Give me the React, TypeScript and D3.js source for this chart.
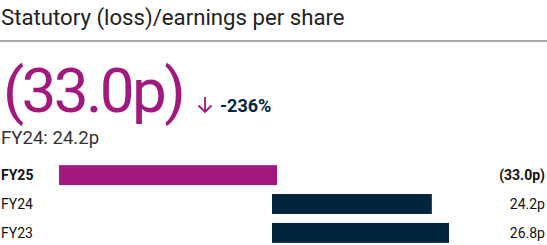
import React from "react";
import * as d3 from "d3";

const categories = ["FY25", "FY24", "FY23"];
const values = [-33.0, 24.2, 26.8];
const valueLabels = ["(33.0p)", "24.2p", "26.8p"];
const titleText = "Statutory (loss)/earnings per share";
const headline = "(33.0p)";
const changeText = "-236%";
const priorText = "FY24: 24.2p";

const W = 547;
const H = 245;
const PURPLE = "#a2197e";
const NAVY = "#02253f";
const FONT = "Roboto, 'Noto Sans', sans-serif";

export default function App() {
  const x = d3.scaleLinear().domain([0, 26.8]).range([272, 449]);
  const y = d3.scaleBand<string>().domain(categories).range([160.5, 247.5]).paddingInner(0.31).paddingOuter(0.16);
  const negShift = 5;

  return (
    <div style={{ position: "absolute", left: 0, top: 0 }}>
      <svg width={W} height={H} style={{ display: "block", fontFamily: FONT }}>
        <text x={1} y={25} fontSize={22.2} fill="#222">{titleText}</text>
        <line x1={0} x2={W} y1={41} y2={41} stroke="#555" strokeWidth={1.2} />
        <text x={3} y={112} fontSize={62} letterSpacing={-2.6} fill={PURPLE}>{headline}</text>
        <path d="M205,97 V112 M198.5,105.5 L205,112 L211.5,105.5" fill="none" stroke={PURPLE} strokeWidth={1.8} />
        <text x={220} y={112} fontSize={18} fontWeight="bold" fill={NAVY}>{changeText}</text>
        <text x={1} y={144} fontSize={18.6} fill="#333">{priorText}</text>
        {categories.map((c, i) => {
          const v = values[i];
          const y0 = y(c)!;
          const bh = y.bandwidth();
          const neg = v < 0;
          const x0 = neg ? x(v) + negShift : x(0);
          const x1 = neg ? x(0) + negShift : x(v);
          const bold = i === 0;
          return (
            <g key={c}>
              <text x={1} y={y0 + bh / 2 + 5} fontSize={14} fontWeight={bold ? "bold" : "normal"} fill="#111">{c}</text>
              <rect x={x0} y={y0} width={x1 - x0} height={bh} fill={neg ? PURPLE : NAVY} />
              <text x={545} y={y0 + bh / 2 + 5} fontSize={14} textAnchor="end" fontWeight={bold ? "bold" : "normal"} fill="#111">{valueLabels[i]}</text>
            </g>
          );
        })}
      </svg>
    </div>
  );
}
